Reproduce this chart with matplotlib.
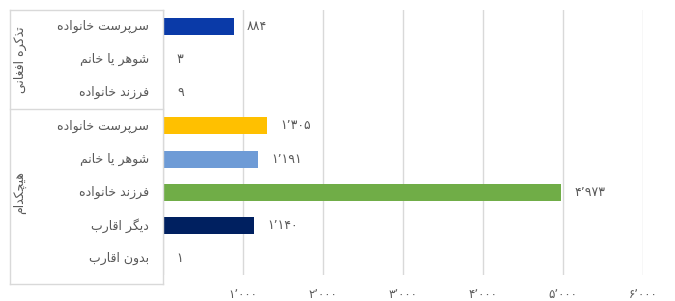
import matplotlib
matplotlib.use('Agg')
import matplotlib.pyplot as plt
from matplotlib.transforms import blended_transform_factory

# data (rows top to bottom)
group_names = ['تذکره افغانی', 'هیچکدام']
group1_cats = ['سرپرست خانواده', 'شوهر یا خانم', 'فرزند خانواده']
group1_vals = [884, 3, 9]
group2_cats = ['سرپرست خانواده', 'شوهر یا خانم', 'فرزند خانواده', 'دیگر اقارب', 'بدون اقارب']
group2_vals = [1305, 1191, 4973, 1140, 1]
xticks = [1000, 2000, 3000, 4000, 5000, 6000]

bar_colors = ['#0A3AA8', '#0A3AA8', '#0A3AA8', '#FFC000', '#6E9BD6', '#70AD47', '#002060', '#A5A5A5']
txt_col = '#595959'
grid_col = '#D9D9D9'

# --- simple arabic shaping (matplotlib has no text shaping) ---
# letter: (isolated, final, initial, medial); right-joining letters have no initial/medial
forms = {
    'ا': ('\uFE8D', '\uFE8E'), 'د': ('\uFEA9', '\uFEAA'), 'ذ': ('\uFEAB', '\uFEAC'),
    'ر': ('\uFEAD', '\uFEAE'), 'ز': ('\uFEAF', '\uFEB0'), 'و': ('\uFEED', '\uFEEE'),
    'ب': ('\uFE8F', '\uFE90', '\uFE91', '\uFE92'), 'ت': ('\uFE95', '\uFE96', '\uFE97', '\uFE98'),
    'خ': ('\uFEA5', '\uFEA6', '\uFEA7', '\uFEA8'), 'س': ('\uFEB1', '\uFEB2', '\uFEB3', '\uFEB4'),
    'ش': ('\uFEB5', '\uFEB6', '\uFEB7', '\uFEB8'), 'غ': ('\uFECD', '\uFECE', '\uFECF', '\uFED0'),
    'ف': ('\uFED1', '\uFED2', '\uFED3', '\uFED4'), 'ق': ('\uFED5', '\uFED6', '\uFED7', '\uFED8'),
    'م': ('\uFEE1', '\uFEE2', '\uFEE3', '\uFEE4'), 'ن': ('\uFEE5', '\uFEE6', '\uFEE7', '\uFEE8'),
    'ه': ('\uFEE9', '\uFEEA', '\uFEEB', '\uFEEC'), 'پ': ('\uFB56', '\uFB57', '\uFB58', '\uFB59'),
    'چ': ('\uFB7A', '\uFB7B', '\uFB7C', '\uFB7D'), 'ک': ('\uFB8E', '\uFB8F', '\uFB90', '\uFB91'),
    'گ': ('\uFB92', '\uFB93', '\uFB94', '\uFB95'), 'ی': ('\uFBFC', '\uFBFD', '\uFBFE', '\uFBFF'),
}


def shape(s):
    out = []
    for i, c in enumerate(s):
        if c not in forms:
            out.append(c)
            continue
        prev = s[i-1] if i > 0 else ''
        nxt = s[i+1] if i < len(s)-1 else ''
        jp = prev in forms and len(forms[prev]) == 4
        jn = len(forms[c]) == 4 and nxt in forms
        f = forms[c]
        if jp and jn:
            out.append(f[3])
        elif jp:
            out.append(f[1])
        elif jn:
            out.append(f[2])
        else:
            out.append(f[0])
    return ''.join(out[::-1])


def fa_num(v):
    return f'{v:,}'.translate(str.maketrans('0123456789,', '۰۱۲۳۴۵۶۷۸۹٬'))


cats = group1_cats + group2_cats
vals = group1_vals + group2_vals
ypos = list(range(len(cats)))

plt.rcParams['font.family'] = ['DejaVu Sans']
fig = plt.figure(figsize=(6.75, 3.01), dpi=100)
ax = fig.add_axes([163/675, 26/301, 480/675, 265/301])

ax.barh(ypos, vals, height=0.51, color=bar_colors[:len(vals)], zorder=2)
ax.set_xlim(0, 6000)
ax.set_ylim(len(cats)-0.5, -0.5)

for s in ax.spines.values():
    s.set_visible(False)
ax.set_xticks([0] + xticks)
ax.set_xticklabels([''] + [fa_num(t) for t in xticks], color=txt_col, fontsize=8.5)
ax.tick_params(axis='x', length=0, pad=9)
ax.set_yticks([])
ax.grid(axis='x', color=grid_col, linewidth=1, zorder=0)

for y, v in zip(ypos, vals):
    ax.annotate(fa_num(v), (v, y), xytext=(9.5, 0), textcoords='offset points',
                ha='left', va='center', color=txt_col, fontsize=9)

# category labels and group box
tr = blended_transform_factory(ax.transAxes, ax.transData)
px = lambda p: (p - 163) / 480.0
bot = len(cats) - 0.5 + 9/33.1
for y, c in zip(ypos, cats):
    ax.text(px(149), y, shape(c), transform=tr, ha='right', va='center',
            color=txt_col, fontsize=9)
ax.text(px(20), 1, shape(group_names[0]), transform=tr, rotation=90,
        ha='center', va='center', color=txt_col, fontsize=9)
ax.text(px(20), 5, shape(group_names[1]), transform=tr, rotation=90,
        ha='center', va='center', color=txt_col, fontsize=9)

for yy in [-0.5, 2.5, bot]:
    ax.plot([px(10), 0], [yy, yy], transform=tr, color=grid_col, lw=1, clip_on=False)
ax.plot([px(10), px(10)], [-0.5, bot], transform=tr, color=grid_col, lw=1, clip_on=False)
ax.plot([0, 0], [-0.5, bot], transform=tr, color=grid_col, lw=1, clip_on=False)

fig.savefig('out.png', dpi=100)
